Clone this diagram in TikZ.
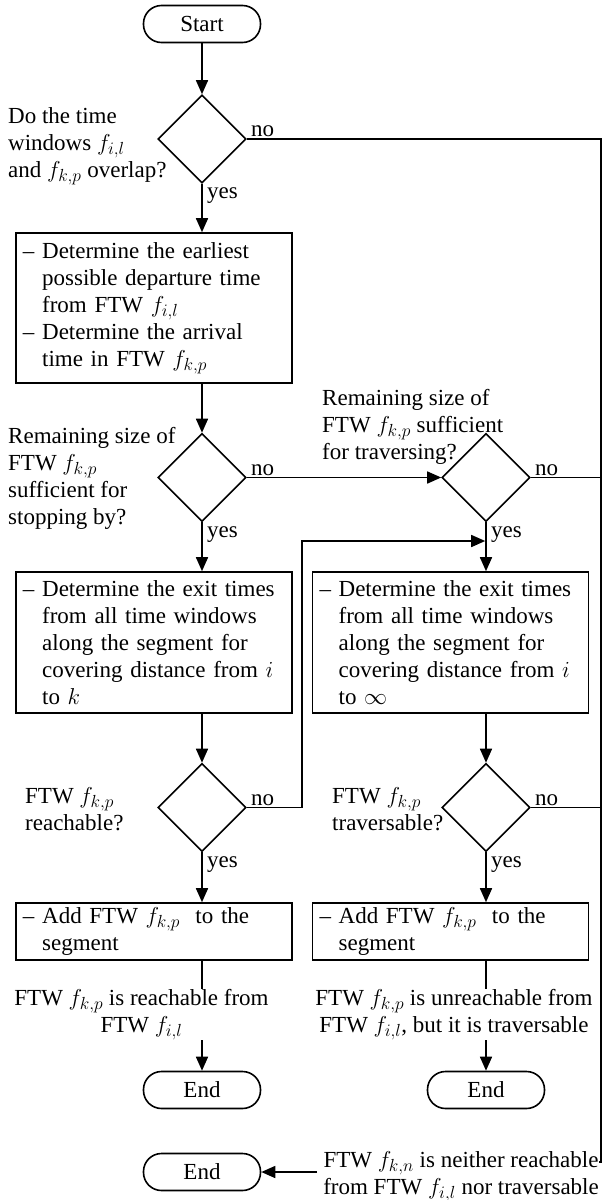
\RequirePackage{fix-cm}
\documentclass[tikz,border=0pt]{standalone}
\usepackage{fontspec}
\setmainfont{Liberation Serif}
\usetikzlibrary{shapes.geometric,arrows.meta}
\DeclareMathSizes{23}{23}{17.5}{13}

% indentation equal to the leading "– " of a list line
\newcommand{\dashgap}{\hphantom{\textendash\ }}

\tikzset{
  flowline/.style={line width=1.6pt},
  arr/.style={flowline, -{Triangle[length=14pt,width=12pt]}},
  term/.style={draw, line width=1.6pt, rounded corners=18pt,
    minimum width=117pt, minimum height=37pt, inner sep=0pt},
  decision/.style={draw, diamond, line width=1.6pt, aspect=1,
    minimum width=88pt, minimum height=88pt, inner sep=0pt},
  procbox/.style={draw, line width=1.6pt, minimum width=276pt,
    text width=262pt, align=left, inner xsep=7pt, inner ysep=0pt},
  lbl/.style={align=left, inner sep=0pt},
  res/.style={align=center, inner sep=0pt},
}

\begin{document}
\begin{tikzpicture}[x=1pt, y=-1pt, font=\fontsize{23}{27}\selectfont]
\useasboundingbox (0,0) rectangle (607,1200);

% main column
\node[term] (start) at (202,24) {Start};
\node[decision] (d1) at (202,139) {};
\node[procbox, minimum height=150pt] (b1) at (154,308)
  {\textendash\ Determine the earliest\\
   \dashgap possible departure time\\
   \dashgap from FTW $f_{i,l}$\\
   \textendash\ Determine the arrival\\
   \dashgap time in FTW $f_{k,p}$};
\node[decision] (d2) at (202,477.5) {};
\node[decision] (d3) at (486,477.5) {};
\node[procbox, minimum height=141pt] (b2) at (154,642.5)
  {\textendash\ Determine the exit times\\
   \dashgap from all time windows\\
   \dashgap along the segment for\\
   \dashgap covering distance from $i$\\
   \dashgap to $k$};
\node[procbox, minimum height=141pt] (b3) at (450.5,642.5)
  {\textendash\ Determine the exit times\\
   \dashgap from all time windows\\
   \dashgap along the segment for\\
   \dashgap covering distance from $i$\\
   \dashgap to $\infty$};
\node[decision] (d4) at (202,807.5) {};
\node[decision] (d5) at (486,807.5) {};
\node[procbox, minimum height=57pt] (b4) at (154,931.5)
  {\textendash\ Add FTW $f_{k,p}$~ to the\\ \dashgap segment};
\node[procbox, minimum height=57pt] (b5) at (450.5,931.5)
  {\textendash\ Add FTW $f_{k,p}$~ to the\\ \dashgap segment};

% outcomes
\node[res, anchor=north] (r1) at (141.5,989)
  {FTW $f_{k,p}$ is reachable from\\FTW $f_{i,l}$};
\node[res, anchor=north] (r2) at (454,989)
  {FTW $f_{k,p}$ is unreachable from\\FTW $f_{i,l}$, but it is traversable};
\node[term] (e1) at (202,1090) {End};
\node[term] (e2) at (486,1090) {End};
\node[term] (e3) at (202,1172) {End};
\node[res, anchor=north east] (r3) at (599,1151)
  {FTW $f_{k,n}$ is neither reachable\\from FTW $f_{i,l}$ nor traversable};

% questions beside the decisions
\node[lbl, anchor=north west] (q1) at (8,107)
  {Do the time\\windows $f_{i,l}$\\and $f_{k,p}$ overlap?};
\node[lbl, anchor=north west] (q2) at (8,427)
  {Remaining size of\\FTW $f_{k,p}$\\sufficient for\\stopping by?};
\node[lbl, anchor=north west] (q3) at (322,389)
  {Remaining size of\\FTW $f_{k,p}$ sufficient\\for traversing?};
\node[lbl, anchor=north west] (q4) at (25,787)
  {FTW $f_{k,p}$\\reachable?};
\node[lbl, anchor=north west] (q5) at (332,787)
  {FTW $f_{k,p}$\\traversable?};

% branch labels
\foreach \d in {d1,d2,d3,d4,d5}{
  \node[lbl, anchor=base west] (no-\d) at ([xshift=4pt, yshift=2.5pt]\d.east) {no};
  \node[lbl, anchor=base west] (yes-\d) at ([xshift=5pt, yshift=-15pt]\d.south) {yes};
}

% connectors
\draw[arr] (start) -- (d1);
\draw[arr] (d1.south) -- (d1.south |- b1.north);
\draw[arr] (b1.south -| d2.north) -- (d2.north);
\draw[arr] (d2.east) -- (d3.west);
\draw[arr] (d2.south) -- (d2.south |- b2.north);
\draw[arr] (d3.south) -- (d3.south |- b3.north);
\draw[arr] (b2.south -| d4.north) -- (d4.north);
\draw[arr] (b3.south -| d5.north) -- (d5.north);
\draw[arr] (d4.south) -- (d4.south |- b4.north);
\draw[arr] (d5.south) -- (d5.south |- b5.north);

\draw[flowline] (b4.south -| d4.south) -- (d4.south |- r1.north);
\draw[arr] (d4.south |- r1.south) -- (e1.north);
\draw[flowline] (b5.south -| d5.south) -- (d5.south |- r2.north);
\draw[arr] (d5.south |- r2.south) -- (e2.north);

% loop back when not reachable
\coordinate (lp) at (302,541);
\draw[arr, shorten >=0.8pt] (d4.east) -| (lp) -- (lp -| d3.south);

% right-hand trunk collecting the "no" exits
\coordinate (rc) at (601,1162);
\draw[flowline] (d1.east) -- (d1.east -| rc) -- (rc) -- (rc -| r3.east);
\draw[flowline] (d3.east) -- (d3.east -| rc);
\draw[flowline] (d5.east) -- (d5.east -| rc);
\draw[arr] ([xshift=-6pt]r3.west |- e3.east) -- (e3.east);
\end{tikzpicture}
\end{document}
